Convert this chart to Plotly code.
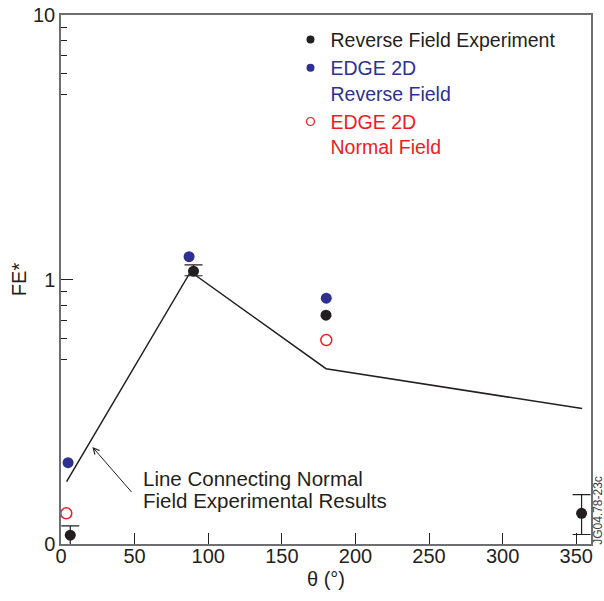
import plotly.graph_objects as go

# Normal field experimental results (connecting line)
line_theta = [3.8, 88, 180, 354]
line_fe = [0.172, 1.07, 0.46, 0.325]

# Reverse field experiment (black, with error bars; None = no bar)
exp_theta = [6.3, 90, 180, 353.6]
exp_fe = [0.108, 1.075, 0.733, 0.1306]
exp_err_plus = [0.009, 0.061, None, 0.023]
exp_err_minus = [0.015, 0.042, None, 0.022]

# EDGE 2D reverse field (blue)
rev_theta = [4.8, 87, 180.2]
rev_fe = [0.203, 1.22, 0.85]

# EDGE 2D normal field (red, open)
norm_theta = [3.6, 180.2]
norm_fe = [0.1306, 0.59]

y_tickvals = [0.1, 1, 10]
y_ticktext = ["0", "1", "10"]
y_minor = [0.5, 0.6, 0.7, 0.8, 0.9, 5, 6, 7, 8, 9]
x_tickvals = [0, 50, 100, 150, 200, 250, 300, 350]

BLACK = "#231f20"
BLUE = "#2e3192"
RED = "#ed1c24"
FONT = "Liberation Sans, Arial, sans-serif"

fig = go.Figure()

fig.add_trace(go.Scatter(x=line_theta, y=line_fe, mode="lines",
                         line=dict(color=BLACK, width=1.5), showlegend=False))

with_err = [i for i, e in enumerate(exp_err_plus) if e is not None]
no_err = [i for i, e in enumerate(exp_err_plus) if e is None]

fig.add_trace(go.Scatter(
    x=[exp_theta[i] for i in with_err], y=[exp_fe[i] for i in with_err], mode="markers",
    marker=dict(color=BLACK, size=11),
    error_y=dict(type="data", array=[exp_err_plus[i] for i in with_err],
                 arrayminus=[exp_err_minus[i] for i in with_err],
                 color=BLACK, thickness=1.2, width=9, symmetric=False),
    showlegend=False))
fig.add_trace(go.Scatter(
    x=[exp_theta[i] for i in no_err], y=[exp_fe[i] for i in no_err], mode="markers",
    marker=dict(color=BLACK, size=11), showlegend=False))

fig.add_trace(go.Scatter(x=rev_theta, y=rev_fe, mode="markers",
                         marker=dict(color=BLUE, size=11), showlegend=False))

fig.add_trace(go.Scatter(x=norm_theta, y=norm_fe, mode="markers",
                         marker=dict(color="rgba(0,0,0,0)", size=11,
                                     line=dict(color=RED, width=1.5)),
                         showlegend=False))

# legend entries
fig.add_trace(go.Scatter(x=[None], y=[None], mode="markers",
                         marker=dict(color=BLACK, size=8),
                         name=f"<span style='color:{BLACK}'>Reverse Field Experiment</span>"))
fig.add_trace(go.Scatter(x=[None], y=[None], mode="markers",
                         marker=dict(color=BLUE, size=8),
                         name=f"<span style='color:{BLUE}'>EDGE 2D</span><br><span style='color:{BLUE}'>Reverse Field</span>"))
fig.add_trace(go.Scatter(x=[None], y=[None], mode="markers",
                         marker=dict(color="white", size=8, line=dict(color=RED, width=1.2)),
                         name=f"<span style='color:{RED}'>EDGE 2D</span><br><span style='color:{RED}'>Normal Field</span>"))

axis_line = "#6d6e71"

fig.update_layout(
    width=604, height=601,
    margin=dict(l=61, r=13, t=15, b=57),
    paper_bgcolor="white", plot_bgcolor="white",
    font=dict(family=FONT, size=20, color=BLACK),
    showlegend=True,
    legend=dict(x=0.433, y=0.99, xanchor="left", yanchor="top",
                bgcolor="rgba(0,0,0,0)", valign="top",
                font=dict(size=19.5), tracegroupgap=0, itemsizing="trace"),
    xaxis=dict(range=[0, 360], tickvals=x_tickvals, ticks="inside", ticklen=11,
               tickwidth=1.2, tickcolor=BLACK, showline=True, mirror=True,
               linecolor=axis_line, linewidth=1.5, showgrid=False, zeroline=False,
               automargin=False, ticklabelstandoff=-7,
               tickfont=dict(size=20), title=dict(text="θ (°)", font=dict(size=20), standoff=6)),
    yaxis=dict(type="log", range=[-1, 1], tickvals=y_tickvals, ticktext=y_ticktext,
               ticks="inside", ticklen=12, tickwidth=1.2, tickcolor=BLACK,
               showline=True, mirror=True, linecolor=axis_line, linewidth=1.5,
               showgrid=False, zeroline=False, automargin=False, tickfont=dict(size=20),
               minor=dict(tickvals=y_minor, ticks="inside", ticklen=6, tickwidth=1.2,
                          tickcolor=BLACK, showgrid=False),
               title=dict(text="FE*", font=dict(size=20), standoff=1)),
)

fig.add_annotation(x=54.0, y=-0.751, xref="x", yref="y",
                   text="Line Connecting Normal",
                   showarrow=False, xanchor="left", yanchor="middle", align="left",
                   font=dict(size=20.5, color=BLACK))
fig.add_annotation(x=54.0, y=-0.834, xref="x", yref="y",
                   text="Field Experimental Results",
                   showarrow=False, xanchor="left", yanchor="middle", align="left",
                   font=dict(size=20.5, color=BLACK))
fig.add_annotation(x=21.3, y=-0.633, ax=48.8, ay=-0.809, xref="x", yref="y",
                   axref="x", ayref="y", text="", showarrow=True,
                   arrowhead=5, arrowsize=1.2, arrowwidth=1, arrowcolor=BLACK)
fig.add_annotation(x=1.012, y=0.0633, xref="paper", yref="paper", text="JG04.78-23c",
                   xanchor="center", yanchor="middle",
                   textangle=-90, showarrow=False, font=dict(size=12, color="#414042"))

fig.write_html("out.html", config={"displayModeBar": False},
               post_script="document.body.style.margin='0';document.body.style.overflow='hidden';")
